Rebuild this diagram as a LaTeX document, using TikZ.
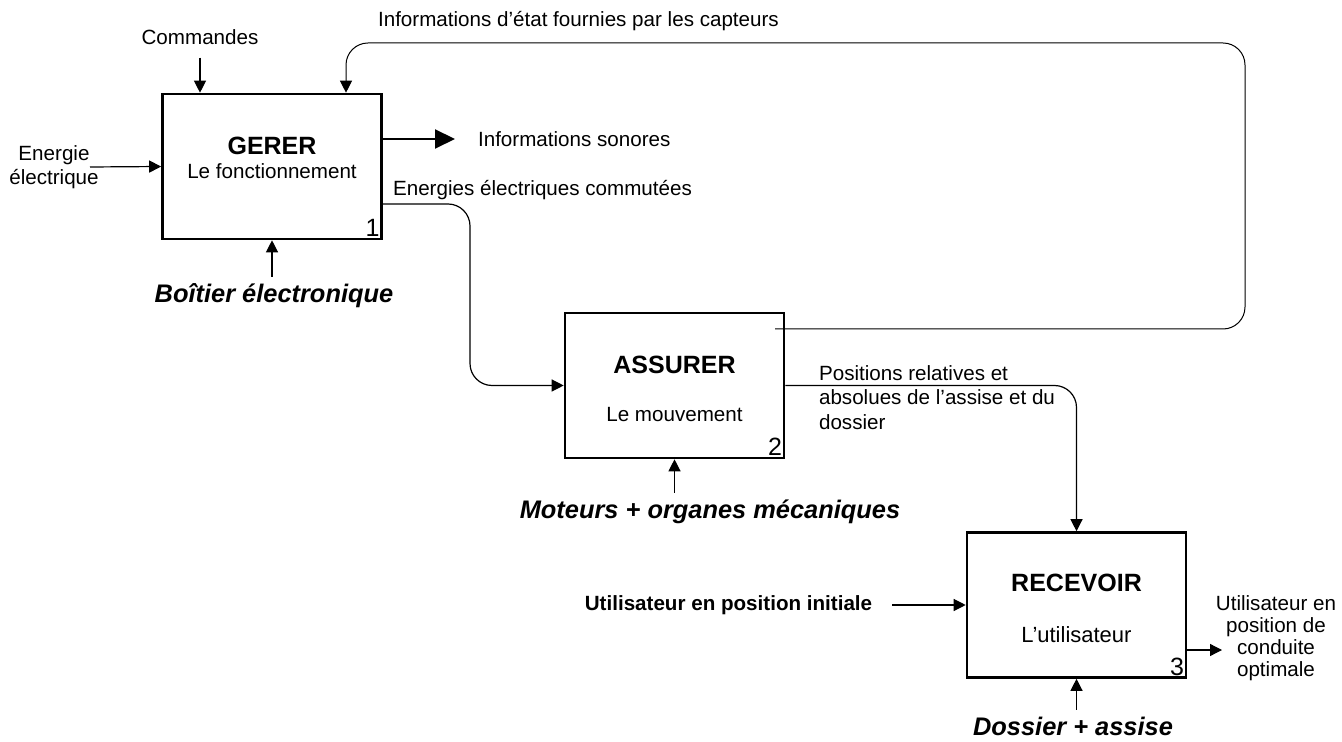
\documentclass[tikz,border=0pt]{standalone}
\usepackage{fontspec}
\setmainfont{Liberation Sans}
\usetikzlibrary{arrows.meta}

\tikzset{
    fonction/.style={draw, line width=1.3pt, minimum width=109.5pt, minimum height=72.5pt, inner sep=0pt},
    titre/.style={font=\fontsize{12.5}{15}\selectfont\bfseries},
    support/.style={font=\fontsize{12.7}{15}\selectfont\bfseries\itshape},
    numero/.style={font=\fontsize{12.5}{15}\selectfont, anchor=south east, inner sep=1.5pt},
    fleche/.style={line width=0.6pt, -{Triangle[length=6pt,width=6pt]}},
    grossefleche/.style={line width=1pt, -{Triangle[length=10pt,width=9.5pt]}},
}

\begin{document}
\begin{tikzpicture}[x=0.5pt, y=-0.5pt, font=\fontsize{10.3}{12}\selectfont]
    \useasboundingbox (0,0) rectangle (1342,742);
    % les trois fonctions
    \node[fonction] (g) at (272,166.5) {};
    \node[fonction] (a) at (674.5,385.5) {};
    \node[fonction] (r) at (1076.5,605) {};
    \node[titre] (gt) at (272,146) {GERER};
    \node (gs) at (272,171) {Le fonctionnement};
    \node[numero] (g1) at (g.south east) {1};
    \node[titre] (at) at (674.5,365) {ASSURER};
    \node (as) at (674.5,415) {Le mouvement};
    \node[numero] (a2) at (a.south east) {2};
    \node[titre] (rt) at (1076.5,583) {RECEVOIR};
    \node[font=\fontsize{11}{13}\selectfont] (rs) at (1076.5,635) {L’utilisateur};
    \node[numero] (r3) at (r.south east) {3};
    % GERER
    \node (commandes) at (200,37) {Commandes};
    \draw[fleche, shorten <=3pt] (commandes) -- (commandes |- g.north);
    \node[align=center] (energie) at (54,167) {Energie\\électrique};
    \coordinate (e0) at (90,167);
    \draw[fleche] (e0) -- (g.west);
    \node[anchor=west] (sonores) at (471,139) {Informations sonores};
    \draw[grossefleche] (g.east |- sonores) -- ([xshift=-8pt]sonores.west);
    \node[support] (boitier) at (274,296) {Boîtier électronique};
    \draw[fleche] (boitier.north -| g.south) -- (g.south);
    \node[anchor=west] (commutees) at (386,190) {Energies électriques commutées};
    \coordinate (descente) at (470,300);
    \draw[fleche, rounded corners=11pt] ([yshift=-18.75pt]g.east) -| (descente) |- (a.west);
    % retour capteurs
    \node[anchor=west] (capteurs) at (371,21) {Informations d’état fournies par les capteurs};
    \coordinate (retour) at (775,329);
    \coordinate (coinfb) at (1245,43);
    \draw[fleche, line width=0.5pt, rounded corners=11pt] (retour) -| (coinfb) -| ([xshift=37pt]g.north);
    % ASSURER
    \node[support] (moteurs) at (710,512) {Moteurs + organes mécaniques};
    \draw[fleche] (moteurs.north -| a.south) -- (a.south);
    \node[anchor=west, align=left, font=\fontsize{10.3}{12.25}\selectfont] (positions) at (812,397.5) {Positions relatives et\\absolues de l’assise et du\\dossier};
    \draw[fleche, rounded corners=11pt] (a.east) -| (r.north);
    % RECEVOIR
    \node[font=\fontsize{10.3}{12}\selectfont\bfseries] (initiale) at (728.5,605) {Utilisateur en position initiale};
    \draw[fleche, shorten <=6.5pt] (initiale.east) -- (r.west);
    \node[align=center, font=\fontsize{10.3}{11}\selectfont] (optimale) at (1276,638) {Utilisateur en\\position de\\conduite\\optimale};
    \coordinate (s3) at (1222,650);
    \draw[fleche] ([yshift=-22.5pt]r.east) -- (s3);
    \node[support] (dossier) at (1073,726) {Dossier + assise};
    \draw[fleche] (dossier.north -| r.south) -- (r.south);
\end{tikzpicture}
\end{document}
